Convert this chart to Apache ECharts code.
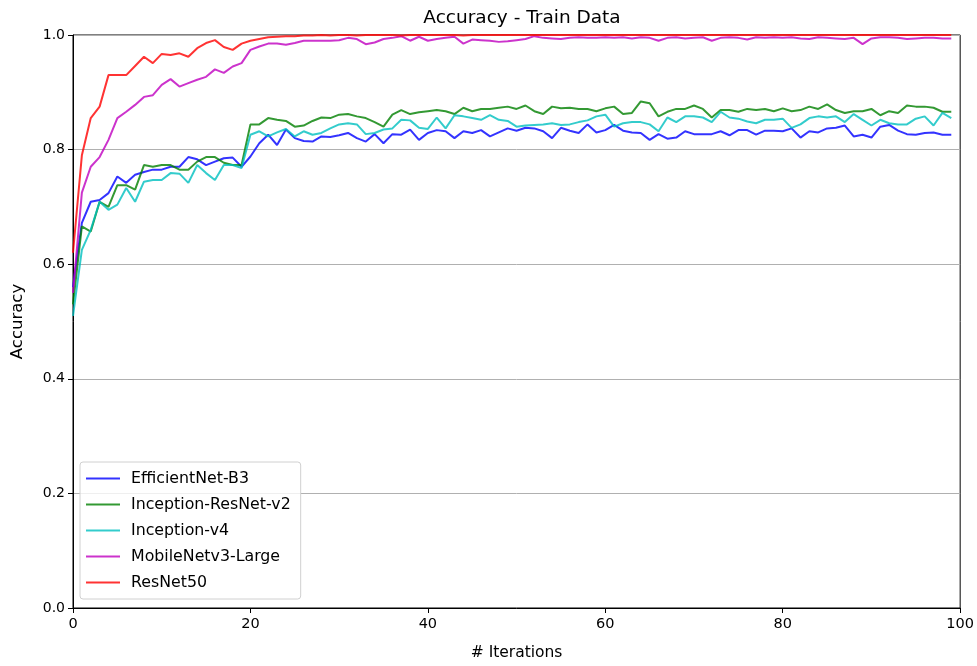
<!DOCTYPE html>
<html>
<head>
<meta charset="utf-8">
<script src="https://cdn.jsdelivr.net/npm/echarts@6/dist/echarts.min.js"></script>
<style>
html,body{margin:0;padding:0;background:#fff;}
#chart{width:977px;height:666px;}
</style>
</head>
<body>
<div id="chart"></div>
<script>
const seriesNames = ["EfficientNet-B3", "Inception-ResNet-v2", "Inception-v4", "MobileNetv3-Large", "ResNet50"];
const xTicks = [0, 20, 40, 60, 80, 100];
const yTicks = [0.0, 0.2, 0.4, 0.6, 0.8, 1.0];

const efficientNetB3 = [
0.56,0.672,0.709,0.712,0.724,0.753,0.742,0.756,0.761,0.765,
0.765,0.770,0.770,0.787,0.783,0.773,0.779,0.785,0.786,0.770,
0.788,0.811,0.826,0.808,0.835,0.820,0.815,0.814,0.823,0.822,
0.825,0.829,0.820,0.814,0.827,0.811,0.827,0.826,0.835,0.817,
0.829,0.834,0.832,0.820,0.832,0.829,0.834,0.823,0.830,0.837,
0.833,0.838,0.837,0.832,0.820,0.838,0.833,0.829,0.844,0.830,
0.834,0.843,0.833,0.830,0.829,0.817,0.827,0.819,0.821,0.832,
0.827,0.827,0.827,0.832,0.825,0.834,0.834,0.826,0.833,0.833,
0.832,0.837,0.821,0.832,0.830,0.837,0.838,0.842,0.823,0.826,
0.821,0.840,0.843,0.833,0.827,0.826,0.829,0.830,0.826,0.826
];
const inceptionResNetV2 = [
0.53,0.666,0.657,0.709,0.700,0.738,0.738,0.730,0.773,0.770,
0.773,0.773,0.765,0.765,0.779,0.787,0.787,0.777,0.773,0.773,
0.844,0.844,0.855,0.852,0.850,0.840,0.842,0.850,0.856,0.855,
0.861,0.862,0.858,0.855,0.848,0.840,0.861,0.869,0.862,0.865,
0.867,0.869,0.867,0.862,0.873,0.867,0.871,0.871,0.873,0.875,
0.871,0.877,0.867,0.862,0.875,0.872,0.873,0.871,0.871,0.867,
0.872,0.875,0.862,0.864,0.884,0.881,0.858,0.866,0.871,0.871,
0.877,0.871,0.856,0.869,0.869,0.866,0.871,0.869,0.871,0.867,
0.872,0.867,0.869,0.875,0.871,0.879,0.869,0.864,0.867,0.867,
0.871,0.860,0.867,0.864,0.877,0.875,0.875,0.873,0.866,0.866
];
const inceptionV4 = [
0.51,0.625,0.660,0.709,0.695,0.704,0.733,0.709,0.744,0.747,
0.747,0.759,0.758,0.742,0.773,0.759,0.747,0.773,0.773,0.768,
0.826,0.832,0.823,0.830,0.836,0.823,0.832,0.826,0.829,0.837,
0.844,0.846,0.844,0.827,0.829,0.835,0.837,0.852,0.851,0.838,
0.836,0.856,0.837,0.860,0.858,0.855,0.852,0.860,0.852,0.850,
0.840,0.842,0.843,0.844,0.846,0.843,0.844,0.848,0.851,0.858,
0.861,0.840,0.846,0.848,0.848,0.844,0.832,0.856,0.848,0.858,
0.858,0.856,0.848,0.866,0.856,0.854,0.849,0.846,0.852,0.852,
0.854,0.838,0.844,0.855,0.858,0.856,0.858,0.848,0.862,0.852,
0.842,0.852,0.846,0.844,0.844,0.854,0.858,0.842,0.864,0.855
];
const mobileNetV3Large = [
0.55,0.725,0.770,0.787,0.817,0.855,0.866,0.878,0.892,0.895,
0.913,0.923,0.910,0.916,0.922,0.927,0.940,0.934,0.945,0.951,
0.974,0.980,0.985,0.985,0.983,0.986,0.990,0.990,0.990,0.990,
0.991,0.995,0.993,0.984,0.987,0.993,0.995,0.998,0.990,0.997,
0.990,0.993,0.995,0.997,0.985,0.992,0.991,0.990,0.988,0.989,
0.991,0.993,0.998,0.995,0.994,0.993,0.995,0.996,0.995,0.995,
0.996,0.995,0.996,0.994,0.996,0.995,0.990,0.995,0.996,0.994,
0.995,0.996,0.990,0.995,0.996,0.995,0.992,0.996,0.995,0.996,
0.995,0.996,0.994,0.993,0.996,0.995,0.994,0.993,0.995,0.984,
0.994,0.996,0.996,0.995,0.993,0.994,0.995,0.995,0.994,0.994
];
const resNet50 = [
0.62,0.790,0.855,0.875,0.930,0.930,0.930,0.946,0.962,0.951,
0.967,0.965,0.968,0.962,0.977,0.986,0.991,0.979,0.974,0.985,
0.990,0.993,0.996,0.997,0.998,0.998,0.999,0.999,1.000,0.999,
1.000,1.000,0.999,1.000,1.000,1.000,1.000,0.999,1.000,1.000,
1.000,1.000,1.000,1.000,0.999,1.000,1.000,1.000,1.000,1.000,
1.000,1.000,1.000,1.000,1.000,1.000,1.000,1.000,1.000,1.000,
1.000,1.000,1.000,1.000,1.000,1.000,1.000,1.000,1.000,1.000,
1.000,1.000,1.000,1.000,1.000,1.000,1.000,1.000,1.000,1.000,
1.000,1.000,1.000,1.000,1.000,1.000,1.000,1.000,1.000,1.000,
1.000,1.000,1.000,1.000,1.000,1.000,1.000,1.000,1.000,1.000
];

const seriesValues = [efficientNetB3, inceptionResNetV2, inceptionV4, mobileNetV3Large, resNet50];
const seriesColors = ["rgba(0,0,255,0.8)", "rgba(0,128,0,0.8)", "rgba(0,191,191,0.8)", "rgba(191,0,191,0.8)", "rgba(255,0,0,0.8)"];

const chart = echarts.init(document.getElementById('chart'), null, {renderer: 'canvas'});
const font = 'DejaVu Sans';
const option = {
  backgroundColor: '#fff',
  animation: false,
  title: {
    text: 'Accuracy - Train Data',
    left: 517, top: 4, textAlign: 'center',
    textStyle: {fontFamily: font, fontSize: 18.5, fontWeight: 'normal', color: '#000'}
  },
  grid: {left: 73, right: 16, top: 35, bottom: 57, show: true, borderColor: '#000', borderWidth: 1, backgroundColor: 'transparent'},
  legend: {
    orient: 'vertical', left: 80, top: 462,
    data: seriesNames,
    itemWidth: 34, itemHeight: 14, itemGap: 9,
    icon: 'path://M0,6 L34,6 L34,8 L0,8 Z',
    padding: [8, 10, 8, 6],
    borderColor: '#d0d0d0', borderWidth: 1, borderRadius: 3,
    backgroundColor: 'rgba(255,255,255,0.8)',
    textStyle: {fontFamily: font, fontSize: 15.8, color: '#000', lineHeight: 17, padding: [0, 0, 0, 6]}
  },
  xAxis: {
    type: 'value', min: 0, max: 100, interval: 20,
    name: '# Iterations', nameLocation: 'middle', nameGap: 37,
    nameTextStyle: {fontFamily: font, fontSize: 15.5, color: '#000'},
    axisLine: {show: true, onZero: false, lineStyle: {color: '#000', width: 1}},
    axisTick: {show: true, length: 5, lineStyle: {color: '#000'}},
    axisLabel: {fontFamily: font, fontSize: 14.5, color: '#000', margin: 9,
      formatter: v => xTicks.includes(v) ? String(v) : ''},
    splitLine: {show: false}
  },
  yAxis: {
    type: 'value', min: 0, max: 1, interval: 0.2,
    name: 'Accuracy', nameLocation: 'middle', nameGap: 47,
    nameTextStyle: {fontFamily: font, fontSize: 16.5, color: '#000'},
    axisLine: {show: true, lineStyle: {color: '#000', width: 1}},
    axisTick: {show: true, length: 5, lineStyle: {color: '#000'}},
    axisLabel: {fontFamily: font, fontSize: 14, color: '#000', margin: 8,
      formatter: v => {
        const t = yTicks.find(y => Math.abs(y - v) < 1e-6);
        return t === undefined ? '' : t.toFixed(1);
      }},
    splitLine: {show: true, lineStyle: {color: '#b0b0b0', width: 1}}
  },
  series: seriesNames.map((name, k) => ({
    name: name,
    type: 'line',
    data: seriesValues[k].map((v, i) => [i, v]),
    showSymbol: false,
    symbol: 'none',
    clip: true,
    lineStyle: {color: seriesColors[k], width: 2},
    itemStyle: {color: seriesColors[k]},
    z: 2 + k
  }))
};
chart.setOption(option);
</script>
</body>
</html>
